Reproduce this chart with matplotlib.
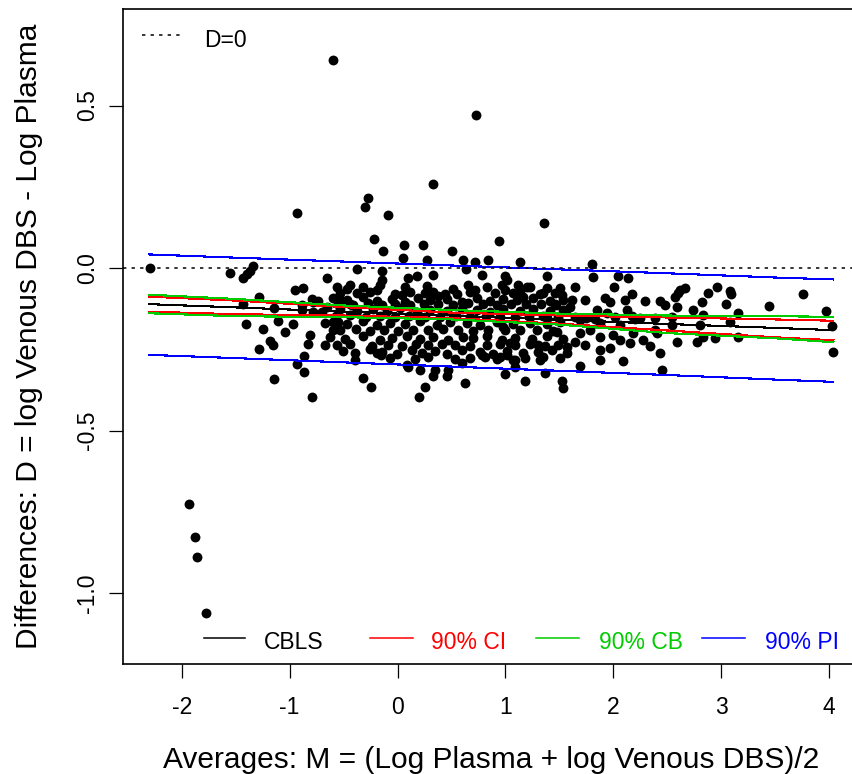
import matplotlib
matplotlib.use("Agg")
import matplotlib.pyplot as plt

plt.rcParams['font.family'] = ['Liberation Sans', 'DejaVu Sans']

# Averages M and differences D for each sample
avg_m = [
    -2.294, -0.595, 0.728, 0.326, -0.271, -0.301, -0.934, -0.091, 0.941, -0.215,
    0.063, 0.239, -0.132, 0.502, 0.048, 0.276, 0.610, 0.718, 0.836, 1.361,
    1.135, 1.800, 1.815, 1.383, 2.046, 2.133, 2.009, 3.761, 3.443, 3.969,
    4.024, 4.039, -1.930, -1.879, -1.858, -1.771,
    # left part of the cloud
    -1.552, -1.432, -1.398, -1.367, -1.335, -0.656, -0.950, -0.879, -1.281, -0.795,
    -0.734, -1.429, -1.145, -0.888, -0.888, -0.786, -0.703, -1.404, -1.249, -1.105,
    -0.966, -1.043, -0.672, -0.811, -0.827, -1.182, -1.157, -1.281, -0.672, -0.867,
    -0.934, -0.867, -1.145, -0.795, -0.595, -0.549, -0.440, -0.394, -0.317, -0.248,
    -0.193, -0.373, -0.141, -0.656, -0.533, -0.410, -0.780,
    # lower centre
    0.202, 0.255, 0.626, 0.996, 0.332, 0.456, 0.811, 0.950, 1.089, -0.153, 0.100,
    # right part of the cloud
    1.182, 1.522, 1.537, 1.367, 1.089, 1.691, 2.093, 1.877, 1.877, 1.568,
    1.568, 2.433, 2.449, 2.588, 2.773, 2.943, 3.159, 2.541, 2.804, 3.082,
    2.741, 2.829, 3.159, 2.479, 2.588, 2.572, 2.618, 2.664, 2.602, 2.819,
    2.880, 2.958, 3.082, 3.091, 3.044, 2.278, 2.185, 2.000, 1.877, 1.691,
    1.475, 0.981, 1.305, 1.043, 1.645, 1.012, 1.351, 2.124, 2.171, 1.846,
    1.939, 1.460, 1.614, 1.923, 1.969, 2.108, 2.171, 1.522, 1.645, 1.383,
    1.351, 1.012, 1.120, 1.197, 0.996, 1.073, 1.166, 1.559, 1.747, 1.383,
    1.691, 1.877, 2.062, 2.247, 2.386, 1.784, 2.835, 1.599, 2.062, 2.402,
    1.645, 1.830, 2.016, 2.201, 2.386, 2.544, 1.738, 1.969, 2.155, 2.340,
    1.738, 2.294, 2.433,
    # dense core
    0.332, 0.632, 0.780, 0.996, -0.146, 0.100, 0.178, -0.440, -0.468, -0.378,
    -0.162, -0.187, 0.070, 0.116, 0.039, 0.332, 0.378, 0.517, 0.549, 0.656,
    0.718, 0.966, -0.563, -0.317, 0.271, 0.827, 1.228, 1.506,
    -0.533, -0.255, -0.023, 0.255, 0.440, 0.672, 0.904, 1.135, 1.321, 1.460,
    -0.595, -0.471, -0.317, -0.193, -0.054, 0.070, 0.190, 0.301, 0.456, 0.595,
    0.734, 0.857, 0.981, 1.105, 1.259, 1.413, 1.537,
    -0.551, -0.422, -0.273, -0.144, -0.023, 0.116, 0.246, 0.375, 0.514, 0.653,
    0.792, 0.922, 1.051, 1.191, 1.330, 1.469,
    -0.533, -0.378, -0.224, -0.100, 0.023, 0.178, 0.301, 0.456, 0.595, 0.734,
    0.857, 0.981, 1.135, 1.259, 1.413, 1.537,
    -0.570, -0.440, -0.292, -0.162, -0.023, 0.107, 0.255, 0.394, 0.542, 0.672,
    0.820, 0.950, 1.089, 1.219, 1.349, 1.488,
    -0.595, -0.471, -0.317, -0.193, -0.070, 0.070, 0.209, 0.363, 0.487, 0.641,
    0.765, 0.919, 1.073, 1.228, 1.383, 1.506,
    -0.533, -0.385, -0.255, -0.125, 0.005, 0.144, 0.283, 0.422, 0.561, 0.700,
    0.839, 0.996, 1.135, 1.293, 1.441,
    -0.626, -0.487, -0.317, -0.162, -0.054, 0.085, 0.209, 0.332, 0.471, 0.610,
    0.703, 0.827, 0.966, 1.089, 1.244, 1.383, 1.537,
    -0.561, -0.440, -0.236, -0.088, 0.042, 0.171, 0.283, 0.412, 0.533, 0.672,
    0.829, 0.950, 1.089, 1.228, 1.367, 1.488,
    -0.502, -0.394, -0.255, -0.146, -0.007, 0.132, 0.224, 0.348, 0.456, 0.595,
    0.765, 0.888, 1.012, 1.166, 1.305, 1.429,
    -0.070, 0.162, 0.283, 0.533, 0.672, 0.922,
    0.085, 0.209, 0.348, 0.471, 0.595, 0.780, 1.073, 1.182, 1.321, 1.506,
]

diff_d = [
    0.000, 0.640, 0.471, 0.258, 0.216, 0.187, 0.170, 0.163, 0.084, 0.088,
    0.071, 0.071, 0.053, 0.053, 0.030, 0.025, 0.025, 0.019, 0.025, 0.139,
    0.018, 0.014, -0.027, -0.025, -0.023, -0.032, -0.058, -0.081, -0.116, -0.132,
    -0.178, -0.258, -0.726, -0.827, -0.890, -1.062,
    -0.016, -0.031, -0.018, -0.008, 0.005, -0.032, -0.068, -0.061, -0.090, -0.096,
    -0.101, -0.111, -0.124, -0.114, -0.129, -0.134, -0.134, -0.172, -0.186, -0.162,
    -0.172, -0.198, -0.168, -0.206, -0.234, -0.224, -0.237, -0.249, -0.237, -0.270,
    -0.295, -0.319, -0.342, -0.396, -0.191, -0.165, -0.109, -0.283, -0.339, -0.365,
    -0.262, -0.004, -0.008, -0.119, -0.098, -0.114, -0.104,
    -0.396, -0.365, -0.355, -0.326, -0.332, -0.332, -0.273, -0.273, -0.283, -0.268, -0.304,
    -0.348, -0.347, -0.370, -0.324, -0.304, -0.302, -0.285, -0.283, -0.252, -0.242,
    -0.262, -0.262, -0.314, -0.227, -0.227, -0.214, -0.213, -0.175, -0.175, -0.165,
    -0.129, -0.145, -0.139, -0.114, -0.119, -0.088, -0.068, -0.062, -0.076, -0.104,
    -0.078, -0.058, -0.070, -0.081, -0.111, -0.222, -0.201, -0.206, -0.211, -0.201,
    -0.196, -0.181, -0.237, -0.232, -0.227, -0.268, -0.273, -0.129, -0.148, -0.129,
    -0.139, -0.109, -0.098, -0.093, -0.104, -0.098, -0.080, -0.083, -0.059, -0.062,
    -0.078, -0.037, -0.052, -0.058, -0.068, -0.078, -0.088, -0.129, -0.154, -0.154,
    -0.160, -0.169, -0.175, -0.154, -0.191, -0.191, -0.211, -0.120, -0.222, -0.201,
    -0.151, -0.157, -0.150, -0.158, -0.153, -0.149, -0.237, -0.245, -0.232, -0.240,
    -0.098, -0.102, -0.100,
    -0.022, -0.004, -0.022, -0.025, -0.037, -0.030, -0.025, -0.052, -0.065, -0.078,
    -0.052, -0.068, -0.058, -0.073, -0.083, -0.073, -0.086, -0.065, -0.080, -0.052,
    -0.068, -0.052, -0.058, -0.058, -0.055, -0.058, -0.058, -0.062,
    -0.077, -0.074, -0.079, -0.076, -0.080, -0.075, -0.078, -0.073, -0.079, -0.076,
    -0.092, -0.098, -0.090, -0.100, -0.094, -0.103, -0.091, -0.099, -0.096, -0.104,
    -0.093, -0.101, -0.095, -0.099, -0.092, -0.102, -0.097,
    -0.111, -0.114, -0.108, -0.113, -0.110, -0.115, -0.109, -0.112, -0.114, -0.108,
    -0.111, -0.113, -0.109, -0.112, -0.110, -0.114,
    -0.125, -0.133, -0.127, -0.131, -0.124, -0.134, -0.128, -0.132, -0.126, -0.130,
    -0.135, -0.127, -0.131, -0.126, -0.133, -0.129,
    -0.148, -0.145, -0.150, -0.147, -0.151, -0.146, -0.149, -0.152, -0.147, -0.150,
    -0.146, -0.149, -0.151, -0.147, -0.148, -0.150,
    -0.166, -0.172, -0.163, -0.175, -0.168, -0.171, -0.164, -0.174, -0.167, -0.170,
    -0.176, -0.165, -0.172, -0.168, -0.173, -0.166,
    -0.191, -0.188, -0.193, -0.190, -0.194, -0.189, -0.192, -0.188, -0.191, -0.193,
    -0.190, -0.192, -0.189, -0.191, -0.194,
    -0.212, -0.219, -0.210, -0.222, -0.214, -0.208, -0.218, -0.213, -0.221, -0.211,
    -0.216, -0.209, -0.220, -0.214, -0.217, -0.210, -0.219,
    -0.237, -0.234, -0.239, -0.236, -0.240, -0.235, -0.238, -0.233, -0.237, -0.239,
    -0.236, -0.234, -0.238, -0.235, -0.239, -0.236,
    -0.255, -0.262, -0.250, -0.259, -0.264, -0.253, -0.260, -0.256, -0.263, -0.251,
    -0.258, -0.265, -0.254, -0.261, -0.257, -0.252,
    -0.277, -0.280, -0.275, -0.279, -0.276, -0.281,
    -0.298, -0.314, -0.314, -0.314, -0.292, -0.268, -0.283, -0.277, -0.283, -0.277,
]

# Regression line and bands evaluated along M
band_m = [-2.3, -1.5, -0.5, 0.5, 1.5, 2.5, 3.5, 4.04]
cbls_fit = [-0.111, -0.121, -0.134, -0.146, -0.159, -0.172, -0.184, -0.191]
ci_upper = [-0.088, -0.100, -0.120, -0.137, -0.146, -0.152, -0.158, -0.162]
ci_lower = [-0.134, -0.142, -0.146, -0.154, -0.171, -0.192, -0.213, -0.222]
cb_upper = [-0.082, -0.095, -0.115, -0.129, -0.140, -0.146, -0.148, -0.150]
cb_lower = [-0.139, -0.148, -0.151, -0.158, -0.174, -0.200, -0.216, -0.228]
pi_upper = [0.042, 0.032, 0.020, 0.008, -0.004, -0.016, -0.029, -0.035]
pi_lower = [-0.267, -0.277, -0.290, -0.303, -0.316, -0.329, -0.343, -0.350]

x_ticks = [-2, -1, 0, 1, 2, 3, 4]
x_tick_labels = ["-2", "-1", "0", "1", "2", "3", "4"]
y_ticks = [-1.0, -0.5, 0.0, 0.5]
y_tick_labels = ["-1.0", "-0.5", "0.0", "0.5"]

legend_names = ["CBLS", "90% CI", "90% CB", "90% PI"]
legend_colors = ["black", "#FF0000", "#00CC00", "#0000FF"]

W, H = 853, 774
fig = plt.figure(figsize=(W / 100, H / 100), dpi=100)
ax = fig.add_axes([123 / W, 1 - 664 / H, 737.4 / W, 655 / H])
ax.set_xlim(-2.544, 4.29)
ax.set_ylim(-1.218, 0.797)

ax.plot(avg_m, diff_d, 'o', color='black', ms=7.1, mew=0, zorder=2)

lw = 0.8
ax.plot(band_m, cbls_fit, color=legend_colors[0], lw=lw, antialiased=False, zorder=3)
for lo, up, c in [(ci_lower, ci_upper, legend_colors[1]),
                  (cb_lower, cb_upper, legend_colors[2]),
                  (pi_lower, pi_upper, legend_colors[3])]:
    ax.plot(band_m, up, color=c, lw=lw, antialiased=False, zorder=3)
    ax.plot(band_m, lo, color=c, lw=lw, antialiased=False, zorder=3)

ax.axhline(0, color='black', lw=1.1, linestyle=(0, (2.2, 3.4)), zorder=4)

# Legends drawn in axes coordinates
ax.plot([0.0254, 0.0810], [0.9603, 0.9603], transform=ax.transAxes,
        color='black', lw=1.1, linestyle=(0, (2.2, 3.4)))
ax.text(0.1098, 0.9424, "D=0", transform=ax.transAxes, fontsize=16.5,
        va='baseline', ha='left', color='black')

sample_x = [(0.1098, 0.1654), (0.3350, 0.3933), (0.5601, 0.6184), (0.7852, 0.8435)]
text_x = [0.1912, 0.4177, 0.6455, 0.8706]
for (x0, x1), tx, name, col in zip(sample_x, text_x, legend_names, legend_colors):
    ax.plot([x0, x1], [0.0392, 0.0392], transform=ax.transAxes, color=col, lw=1.1)
    ax.text(tx, 0.0224, name, transform=ax.transAxes, fontsize=16.5,
            va='baseline', ha='left', color=col)

ax.set_xticks(x_ticks)
ax.set_xticklabels(x_tick_labels)
ax.set_yticks(y_ticks)
ax.set_yticklabels(y_tick_labels, rotation=90, va='center')
ax.tick_params(direction='out', length=10, width=0.9, labelsize=16.5, color='black')
ax.tick_params(axis='x', pad=13)
ax.tick_params(axis='y', pad=7)
for s in ax.spines.values():
    s.set_linewidth(1.2)

fig.text(491.5 / W, 1 - 760 / H, "Averages: M = (Log Plasma + log Venous DBS)/2",
         fontsize=21.5, ha='center', va='center')
fig.text(29 / W, 1 - 336.5 / H, "Differences: D = log Venous DBS - Log Plasma",
         fontsize=21.5, ha='center', va='center', rotation=90)

fig.savefig("out.png", dpi=100)
